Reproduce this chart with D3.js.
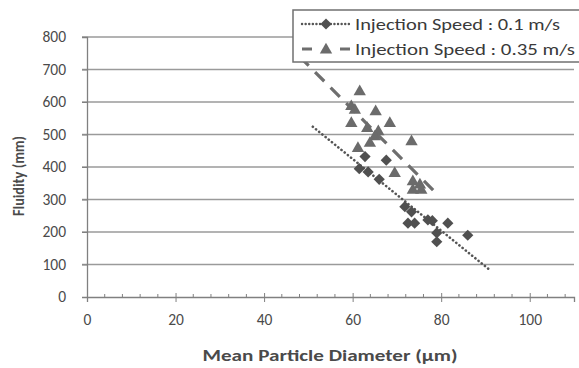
<!DOCTYPE html>
<html><head><meta charset="utf-8">
<script src="https://cdn.jsdelivr.net/npm/d3@7"></script>
<style>body{margin:0;background:#fff}svg{display:block}</style>
</head><body>
<svg id="c" width="579" height="368"></svg>
<script>
// Data
const seriesNames = ["Injection Speed : 0.1 m/s", "Injection Speed : 0.35 m/s"];
const diaX = [62.8, 67.6, 61.5, 63.5, 66.0, 71.8, 73.3, 72.5, 74.0, 77.0, 78.0, 81.5, 79.0, 79.0, 86.0];
const diaY = [432, 421, 395, 385, 362, 278, 262, 227, 227, 237, 235, 227, 197, 170, 190];
const triX = [61.6, 59.7, 60.5, 65.2, 59.7, 68.4, 63.3, 65.8, 65.0, 63.9, 73.3, 61.2, 69.5, 73.6, 75.2, 73.6, 75.5];
const triY = [632, 586, 575, 570, 534, 534, 519, 509, 493, 473, 478, 457, 380, 355, 345, 329, 329];
const trend1X = [51, 91], trend1Y = [524, 83];
const trend2X = [48, 78.6], trend2Y = [740, 323];
const xTicks = [0, 20, 40, 60, 80, 100];
const yTicks = [0, 100, 200, 300, 400, 500, 600, 700, 800];
const xTitle = "Mean Particle Diameter (μm)";
const yTitle = "Fluidity (mm)";

const svg = d3.select("#c");
const font = "Carlito, 'Open Sans', 'Liberation Sans', sans-serif";
const x = d3.scaleLinear().domain([0, 110]).range([87, 574]);
const y = d3.scaleLinear().domain([0, 800]).range([297, 37]);
const textCol = "#4a4a4a";

// gridlines
svg.append("g").selectAll("line").data(yTicks.filter(d => d > 0)).join("line")
  .attr("x1", x(0) - 5).attr("x2", x(110)).attr("y1", d => y(d)).attr("y2", d => y(d))
  .attr("stroke", "#9a9a9a").attr("stroke-width", 1.3);

// y axis
const ya = svg.append("g").attr("transform", `translate(${x(0)},0)`)
  .call(d3.axisLeft(y).tickValues(yTicks).tickSize(5).tickPadding(16));
ya.select(".domain").attr("stroke", "#808080").attr("stroke-width", 1.3);
ya.selectAll(".tick line").attr("stroke", "#808080");
ya.selectAll("text").attr("font-family", font).attr("font-size", 15.5).attr("fill", textCol);

// x axis
const xa = svg.append("g").attr("transform", `translate(0,${y(0)})`)
  .call(d3.axisBottom(x).tickValues(xTicks).tickSize(5).tickPadding(12));
xa.select(".domain").attr("stroke", "#808080").attr("stroke-width", 1.3);
xa.selectAll(".tick line").attr("stroke", "#808080").attr("y1", -4);
xa.selectAll("text").attr("font-family", font).attr("font-size", 15.5).attr("fill", textCol);
// minor ticks
svg.append("g").selectAll("line").data(d3.range(4, 110, 4).filter(d => d % 20 !== 0)).join("line")
  .attr("x1", d => x(d)).attr("x2", d => x(d)).attr("y1", y(0) - 3).attr("y2", y(0))
  .attr("stroke", "#808080");

// trendlines
const line = d3.line();
svg.append("path").attr("d", line(trend1X.map((d, i) => [x(d), y(trend1Y[i])])))
  .attr("fill", "none").attr("stroke", "#555").attr("stroke-width", 2.6)
  .attr("stroke-dasharray", "0.1 4").attr("stroke-linecap", "round");
svg.append("path").attr("d", line(trend2X.map((d, i) => [x(d), y(trend2Y[i])])))
  .attr("fill", "none").attr("stroke", "#6e6e6e").attr("stroke-width", 3.2)
  .attr("stroke-dasharray", "13 9");

// markers
const dia = d3.symbol().type(d3.symbolDiamond2).size(80);
const tri = d3.symbol().type(d3.symbolTriangle).size(66);
svg.append("g").selectAll("path").data(triX).join("path")
  .attr("d", tri).attr("transform", (d, i) => `translate(${x(d)},${y(triY[i])})`)
  .attr("fill", "#6b6b6b");
svg.append("g").selectAll("path").data(diaX).join("path")
  .attr("d", dia).attr("transform", (d, i) => `translate(${x(d)},${y(diaY[i])})`)
  .attr("fill", "#505050");

// legend
const lg = svg.append("g");
lg.append("rect").attr("x", 293).attr("y", 10).attr("width", 300).attr("height", 52)
  .attr("fill", "#fff").attr("stroke", "#707070").attr("stroke-width", 1.5);
lg.append("line").attr("x1", 302).attr("x2", 350).attr("y1", 24).attr("y2", 24)
  .attr("stroke", "#555").attr("stroke-width", 2.4).attr("stroke-dasharray", "0.1 3.5").attr("stroke-linecap", "round");
lg.append("path").attr("d", dia).attr("transform", "translate(326,24)").attr("fill", "#505050");
lg.append("line").attr("x1", 302).attr("x2", 350).attr("y1", 49).attr("y2", 49)
  .attr("stroke", "#6e6e6e").attr("stroke-width", 3).attr("stroke-dasharray", "10 28");
lg.append("path").attr("d", tri).attr("transform", "translate(326,50)").attr("fill", "#6b6b6b");
lg.selectAll("text").data(seriesNames).join("text")
  .attr("x", 355).attr("y", (d, i) => 29.5 + i * 25)
  .attr("font-family", font).attr("font-size", 16).attr("font-weight", 400).attr("fill", "#3a3a3a")
  .attr("textLength", (d, i) => i === 0 ? 205 : 220).attr("lengthAdjust", "spacingAndGlyphs")
  .text(d => d);

// titles
svg.append("text").attr("x", 330).attr("y", 361).attr("text-anchor", "middle")
  .attr("font-family", font).attr("font-size", 15).attr("font-weight", 700).attr("fill", textCol)
  .attr("textLength", 255).attr("lengthAdjust", "spacingAndGlyphs").text(xTitle);
svg.append("text").attr("transform", "translate(24,176) rotate(-90)").attr("text-anchor", "middle")
  .attr("font-family", font).attr("font-size", 15).attr("font-weight", 700).attr("fill", textCol)
  .attr("textLength", 80).attr("lengthAdjust", "spacingAndGlyphs").text(yTitle);
</script>
</body></html>
